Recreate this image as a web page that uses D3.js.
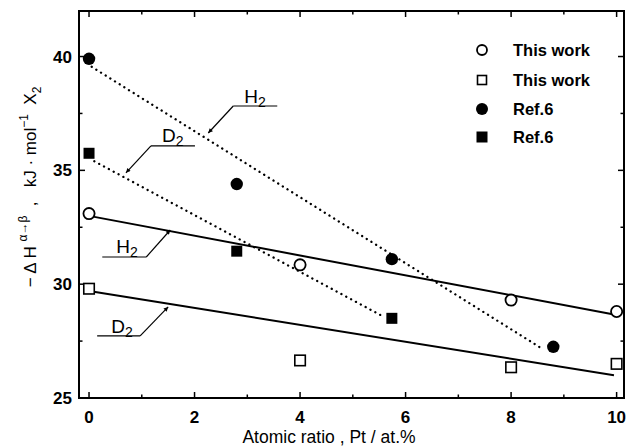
<!DOCTYPE html>
<html><head><meta charset="utf-8">
<script src="https://cdn.jsdelivr.net/npm/d3@7"></script>
<style>body{margin:0;background:#fff}svg{display:block}text{white-space:pre}</style>
</head><body>
<svg id="c" width="629" height="447"></svg>
<script>
// ---- data ----
const xThisH2 = [0, 4, 8, 10];
const yThisH2 = [33.1, 30.85, 29.3, 28.8];
const xThisD2 = [0, 4, 8, 10];
const yThisD2 = [29.8, 26.65, 26.35, 26.5];
const xRefH2 = [0, 2.8, 5.74, 8.8];
const yRefH2 = [39.9, 34.4, 31.1, 27.25];
const xRefD2 = [0, 2.8, 5.74];
const yRefD2 = [35.75, 31.45, 28.5];
// fitted lines (endpoints)
const fitThisH2 = {x: [0, 10], y: [33.0, 28.65]};
const fitThisD2 = {x: [0, 9.95], y: [29.7, 26.0]};
const fitRefH2 = {x: [0.05, 8.6], y: [39.55, 27.15]};
const fitRefD2 = {x: [0.1, 5.6], y: [35.4, 28.55]};
const xTicks = [0, 2, 4, 6, 8, 10];
const xMinor = [1, 3, 5, 7, 9];
const yTicks = [25, 30, 35, 40];
const yMinor = [27.5, 32.5, 37.5];
const legendLabels = ["This work", "This work", "Ref.6", "Ref.6"];
const xTitle = "Atomic ratio , Pt / at.%";

const svg = d3.select("#c");
const L = 79, R = 624, T = 11, B = 398;
const x = d3.scaleLinear().domain([-0.19, 10.14]).range([L, R]);
const y = d3.scaleLinear().domain([25, 42]).range([B, T]);
const font = "Liberation Sans, Arial, sans-serif";

// defs arrow
svg.append("defs").append("marker").attr("id", "ah")
  .attr("viewBox", "0 0 10 10").attr("refX", 10).attr("refY", 5)
  .attr("markerWidth", 8).attr("markerHeight", 4.5).attr("orient", "auto")
  .attr("markerUnits", "userSpaceOnUse")
  .append("path").attr("d", "M0,0 L10,5 L0,10 Z").attr("fill", "#000");

// fit lines
const line = d3.line().x(d => x(d[0])).y(d => y(d[1]));
function drawFit(f, dotted) {
  const p = svg.append("path").datum(d3.zip(f.x, f.y)).attr("d", line)
    .attr("fill", "none").attr("stroke", "#000");
  if (dotted) p.attr("stroke-width", 2.3).attr("stroke-dasharray", "0.1 5.4").attr("stroke-linecap", "round");
  else p.attr("stroke-width", 2);
}
drawFit(fitThisH2, false);
drawFit(fitThisD2, false);
drawFit(fitRefH2, true);
drawFit(fitRefD2, true);

// frame
svg.append("rect").attr("x", L).attr("y", T).attr("width", R - L).attr("height", B - T)
  .attr("fill", "none").attr("stroke", "#000").attr("stroke-width", 2);

// ticks
const tk = svg.append("g").attr("stroke", "#000").attr("stroke-width", 1.5);
xTicks.forEach(v => {
  tk.append("line").attr("x1", x(v)).attr("x2", x(v)).attr("y1", B).attr("y2", B - 6);
  tk.append("line").attr("x1", x(v)).attr("x2", x(v)).attr("y1", T).attr("y2", T + 6);
});
xMinor.forEach(v => {
  tk.append("line").attr("x1", x(v)).attr("x2", x(v)).attr("y1", B).attr("y2", B - 3.5);
  tk.append("line").attr("x1", x(v)).attr("x2", x(v)).attr("y1", T).attr("y2", T + 3.5);
});
yTicks.forEach(v => {
  tk.append("line").attr("x1", L).attr("x2", L + 6).attr("y1", y(v)).attr("y2", y(v));
  tk.append("line").attr("x1", R).attr("x2", R - 6).attr("y1", y(v)).attr("y2", y(v));
});
yMinor.forEach(v => {
  tk.append("line").attr("x1", L).attr("x2", L + 3.5).attr("y1", y(v)).attr("y2", y(v));
  tk.append("line").attr("x1", R).attr("x2", R - 3.5).attr("y1", y(v)).attr("y2", y(v));
});

// tick labels
svg.append("g").selectAll("text").data(xTicks).join("text")
  .attr("x", d => x(d)).attr("y", 423).attr("text-anchor", "middle")
  .attr("font-family", font).attr("font-size", 17).attr("font-weight", "bold").text(d => d);
svg.append("g").selectAll("text").data(yTicks).join("text")
  .attr("x", 72).attr("y", d => y(d) + 6).attr("text-anchor", "end")
  .attr("font-family", font).attr("font-size", 17).attr("font-weight", "bold").text(d => d);

// axis titles
svg.append("text").attr("x", 329).attr("y", 443).attr("text-anchor", "middle")
  .attr("font-family", font).attr("font-size", 17.5).attr("font-weight", 500).text(xTitle);
const yt = svg.append("text").attr("transform", "translate(36,187) rotate(-90)")
  .attr("text-anchor", "middle").attr("font-family", font).attr("font-size", 17);
yt.append("tspan").text("− Δ H ");
yt.append("tspan").attr("dy", -9).attr("font-size", 12).text("α→β");
yt.append("tspan").attr("dy", 9).text("  ,   kJ · mol");
yt.append("tspan").attr("dy", -8).attr("font-size", 12).text("−1");
yt.append("tspan").attr("dy", 8).text("  X");
yt.append("tspan").attr("dy", 5).attr("font-size", 12).text("2");

// markers
function circles(xs, ys, filled) {
  svg.append("g").selectAll("circle").data(d3.zip(xs, ys)).join("circle")
    .attr("cx", d => x(d[0])).attr("cy", d => y(d[1]))
    .attr("r", filled ? 6.2 : 5.6)
    .attr("fill", filled ? "#000" : "#fff").attr("stroke", "#000").attr("stroke-width", filled ? 0 : 1.8);
}
function squares(xs, ys, filled) {
  const s = filled ? 11 : 10.5;
  svg.append("g").selectAll("rect").data(d3.zip(xs, ys)).join("rect")
    .attr("x", d => x(d[0]) - s / 2).attr("y", d => y(d[1]) - s / 2).attr("width", s).attr("height", s)
    .attr("fill", filled ? "#000" : "#fff").attr("stroke", "#000").attr("stroke-width", filled ? 0 : 1.6);
}
circles(xThisH2, yThisH2, false);
squares(xThisD2, yThisD2, false);
circles(xRefH2, yRefH2, true);
squares(xRefD2, yRefD2, true);

// annotations: tip in data coords, label offsets in px
const annotations = [
  {label: "H", sub: "2", tip: [2.26, 36.64], lead: [25, -27], ul: [25, 69], tx: 36, ty: -30},
  {label: "D", sub: "2", tip: [0.70, 34.89], lead: [25, -27], ul: [25, 69], tx: 36, ty: -31},
  {label: "H", sub: "2", tip: [1.54, 32.38], lead: [-24, 27], ul: [-68, -24], tx: -54, ty: 23},
  {label: "D", sub: "2", tip: [1.50, 29.0], lead: [-28, 29], ul: [-71, -28], tx: -57, ty: 26}
];
annotations.forEach(a => {
  const tx = x(a.tip[0]), ty = y(a.tip[1]);
  const sx = tx + a.lead[0], sy = ty + a.lead[1];
  svg.append("line").attr("x1", tx + a.ul[0]).attr("x2", tx + a.ul[1]).attr("y1", sy).attr("y2", sy)
    .attr("stroke", "#000").attr("stroke-width", 1.2);
  svg.append("line").attr("x1", sx).attr("y1", sy).attr("x2", tx).attr("y2", ty)
    .attr("stroke", "#000").attr("stroke-width", 1.2).attr("marker-end", "url(#ah)");
  const t = svg.append("text").attr("x", tx + a.tx).attr("y", ty + a.ty)
    .attr("font-family", font).attr("font-size", 19);
  t.append("tspan").text(a.label);
  t.append("tspan").attr("dy", 4).attr("font-size", 14).text(a.sub);
});

// legend
const legY = [50, 80, 109, 137];
const lg = svg.append("g");
legendLabels.forEach((lab, i) => {
  const cy = legY[i], cx = 482;
  if (i === 0) lg.append("circle").attr("cx", cx).attr("cy", cy).attr("r", 5).attr("fill", "#fff").attr("stroke", "#000").attr("stroke-width", 1.8);
  if (i === 1) lg.append("rect").attr("x", cx - 4.5).attr("y", cy - 4.5).attr("width", 9).attr("height", 9).attr("fill", "#fff").attr("stroke", "#000").attr("stroke-width", 1.6);
  if (i === 2) lg.append("circle").attr("cx", cx).attr("cy", cy).attr("r", 6).attr("fill", "#000");
  if (i === 3) lg.append("rect").attr("x", cx - 5.5).attr("y", cy - 5.5).attr("width", 11).attr("height", 11).attr("fill", "#000");
  lg.append("text").attr("x", 513).attr("y", cy + 6).attr("font-family", font)
    .attr("font-size", 16.5).attr("font-weight", "bold").text(lab);
});
</script>
</body></html>
